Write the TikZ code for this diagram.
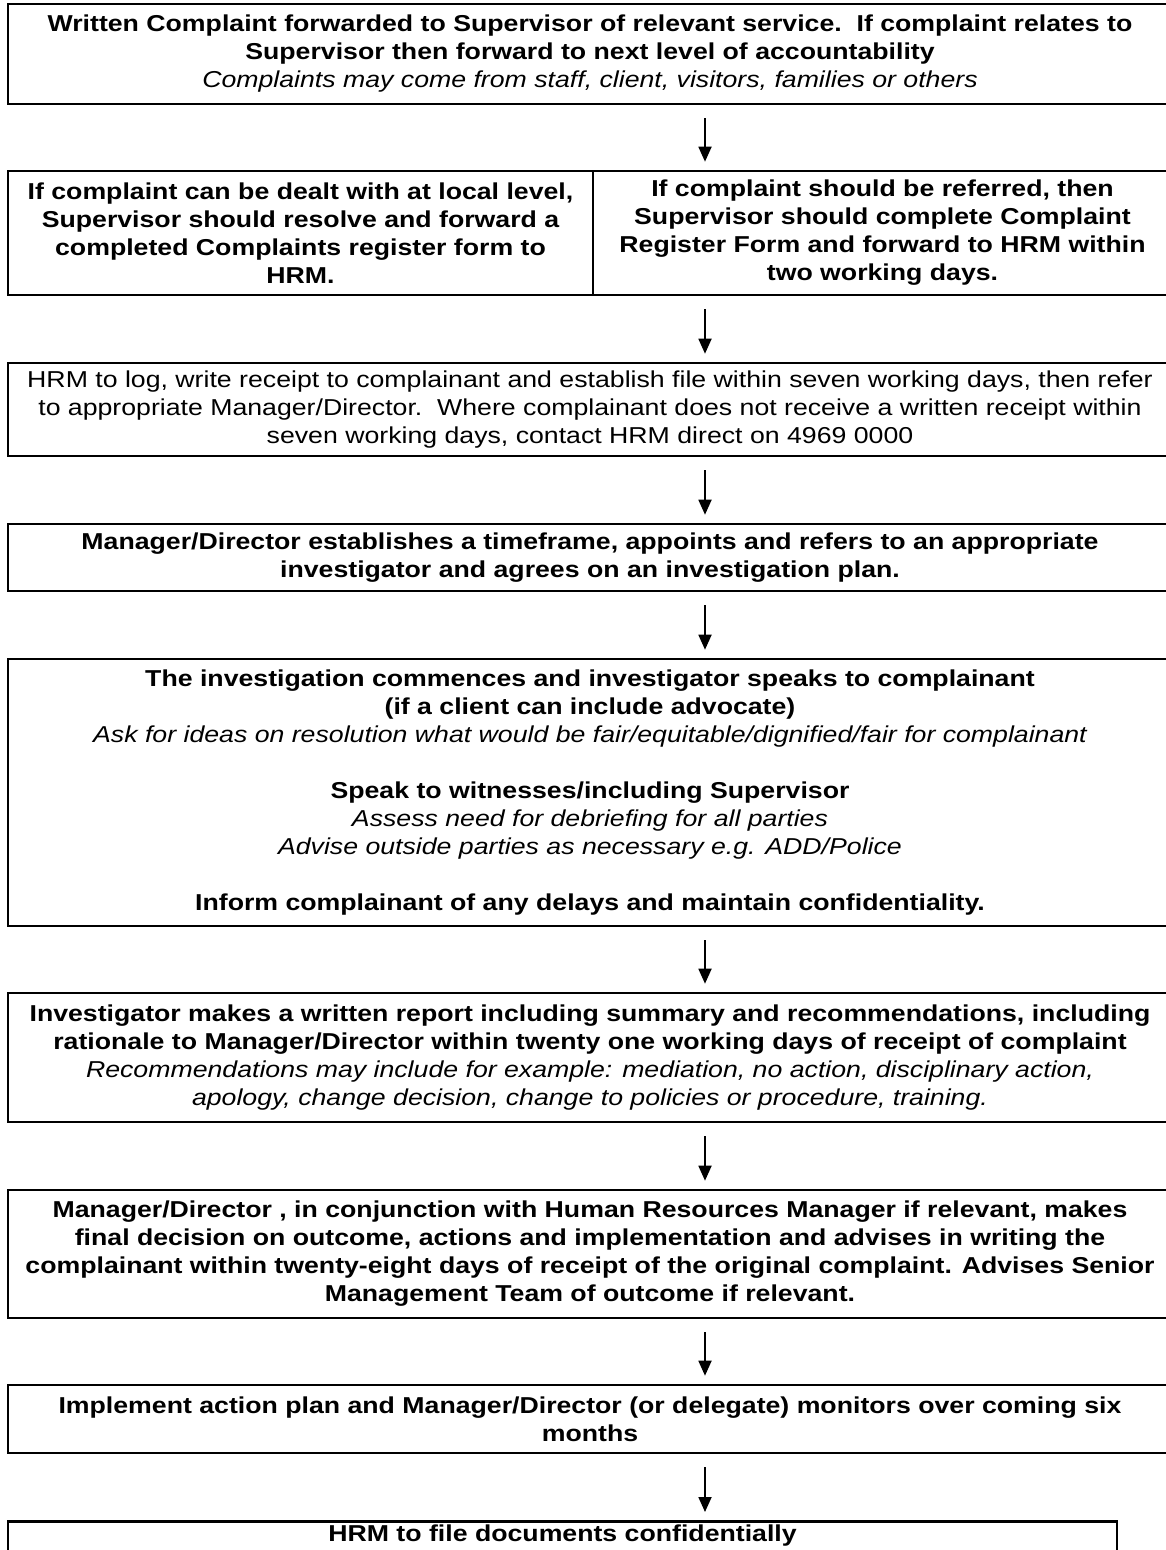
\documentclass[tikz,border=0pt]{standalone}
\usepackage{fontspec}
\setmainfont[FakeStretch=1.16]{Liberation Sans}
\usetikzlibrary{arrows.meta}
\begin{document}
\begin{tikzpicture}[x=1pt,y=-1pt,
  box/.style={draw, line width=2.6pt, inner sep=0pt, align=center,
    font=\fontsize{23}{28}\selectfont\bfseries},
  arr/.style={line width=1.8pt, -{Triangle[width=13pt,length=15pt]},
    shorten <=13pt, shorten >=8pt}]
\useasboundingbox (0,0) rectangle (1166,1550);
\coordinate (ax) at (705,0);
\node[box, minimum width=1164pt, minimum height=100pt] (b1) at (590,54)
  {Written Complaint forwarded to Supervisor of relevant service.\ \ If complaint relates to\\
   Supervisor then forward to next level of accountability\\
   \mdseries\itshape Complaints may come from staff, client, visitors, families or others};
\node[box, minimum width=585pt, minimum height=124pt] (b2l) at (300.5,233)
  {If complaint can be dealt with at local level,\\
   Supervisor should resolve and forward a\\
   completed Complaints register form to\\
   HRM.};
\node[box, minimum width=579pt, minimum height=124pt] (b2r) at (882.5,233)
  {If complaint should be referred, then\\
   Supervisor should complete Complaint\\
   Register Form and forward to HRM within\\
   two working days.};
\node[box, font=\fontsize{23}{28}\selectfont\mdseries, minimum width=1164pt, minimum height=93pt] (b3) at (590,409.5)
  {HRM to log, write receipt to complainant and establish file within seven working days, then refer\\
   to appropriate Manager/Director.\ \ Where complainant does not receive a written receipt within\\
   seven working days, contact HRM direct on 4969 0000};
\node[box, minimum width=1164pt, minimum height=67pt] (b4) at (590,557.5)
  {Manager/Director establishes a timeframe, appoints and refers to an appropriate\\
   investigator and agrees on an investigation plan.};
\node[box, minimum width=1164pt, minimum height=267pt] (b5) at (590,792.5)
  {The investigation commences and investigator speaks to complainant\\
   (if a client can include advocate)\\
   {\mdseries\itshape Ask for ideas on resolution what would be fair/equitable/dignified/fair for complainant}\\
   \mbox{}\\
   Speak to witnesses/including Supervisor\\
   {\mdseries\itshape Assess need for debriefing for all parties}\\
   {\mdseries\itshape Advise outside parties as necessary e.g. ADD/Police}\\
   \mbox{}\\
   Inform complainant of any delays and maintain confidentiality.};
\node[box, minimum width=1164pt, minimum height=129pt] (b6) at (590,1057.5)
  {Investigator makes a written report including summary and recommendations, including\\
   rationale to Manager/Director within twenty one working days of receipt of complaint\\
   {\mdseries\itshape Recommendations may include for example: mediation, no action, disciplinary action,}\\
   {\mdseries\itshape apology, change decision, change to policies or procedure, training.}};
\node[box, minimum width=1164pt, minimum height=128pt] (b7) at (590,1254)
  {Manager/Director , in conjunction with Human Resources Manager if relevant, makes\\
   final decision on outcome, actions and implementation and advises in writing the\\
   complainant within twenty-eight days of receipt of the original complaint. Advises Senior\\
   Management Team of outcome if relevant.};
\node[box, minimum width=1164pt, minimum height=68pt] (b8) at (590,1419)
  {Implement action plan and Manager/Director (or delegate) monitors over coming six\\
   months};
\node[box, minimum width=1109pt, anchor=north, inner ysep=3pt, text height=17pt, text depth=40pt] (b9) at (562.5,1520)
  {HRM to file documents confidentially};
\draw[arr] (b1.south -| ax) -- (b2r.north -| ax);
\draw[arr] (b2r.south -| ax) -- (b3.north -| ax);
\draw[arr] (b3.south -| ax) -- (b4.north -| ax);
\draw[arr] (b4.south -| ax) -- (b5.north -| ax);
\draw[arr] (b5.south -| ax) -- (b6.north -| ax);
\draw[arr] (b6.south -| ax) -- (b7.north -| ax);
\draw[arr] (b7.south -| ax) -- (b8.north -| ax);
\draw[arr] (b8.south -| ax) -- (b9.north -| ax);
\end{tikzpicture}
\end{document}
